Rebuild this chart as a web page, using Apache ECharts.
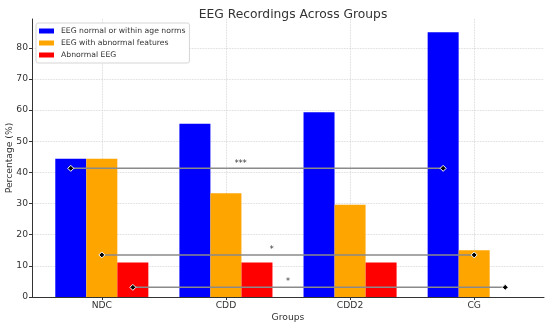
<!DOCTYPE html>
<html>
<head>
<meta charset="utf-8">
<script src="https://cdn.jsdelivr.net/npm/echarts@6/dist/echarts.min.js"></script>
<style>html,body{margin:0;padding:0;background:#fff}#c{width:550px;height:326px}</style>
</head>
<body>
<div id="c"></div>
<script>
const categories = ['NDC', 'CDD', 'CDD2', 'CG'];
const seriesNames = ['EEG normal or within age norms', 'EEG with abnormal features', 'Abnormal EEG'];
const normalVals = [44.4, 55.6, 59.3, 85.0];
const featureVals = [44.4, 33.3, 29.6, 15.0];
const abnormalVals = [11.1, 11.1, 11.1, 0];
const yTicks = [0, 10, 20, 30, 40, 50, 60, 70, 80];
const sigY = [41.3, 13.5, 3.1];
const sigStart = [-0.25, 0, 0.25];
const sigEnd = [2.75, 3, 3.25];
const sigText = ['***', '*', '*'];
const sigTextX = [1.12, 1.37, 1.5];
const sigTextY = [42.6, 15.2, 4.8];

const FONT = 'DejaVu Sans';
const colors = ['#0000ff', '#ffa500', '#ff0000'];
const offsets = [-0.25, 0, 0.25];
const valueSets = [normalVals, featureVals, abnormalVals];

const chart = echarts.init(document.getElementById('c'));
const series = [];
valueSets.forEach((vals, s) => {
  series.push({
    type: 'bar',
    name: seriesNames[s],
    data: vals.map((v, i) => [i + offsets[s], v]),
    barWidth: 31,
    barGap: '-100%',
    itemStyle: { color: colors[s] },
    emphasis: { disabled: true },
    z: 2
  });
});
sigY.forEach((y, k) => {
  series.push({
    type: 'line',
    data: [[sigStart[k], y], [sigEnd[k], y]],
    symbol: 'diamond',
    symbolSize: 6,
    showSymbol: true,
    lineStyle: { color: '#8a8a8a', width: 1.5 },
    itemStyle: { color: '#000', borderColor: '#fff', borderWidth: 1 },
    emphasis: { disabled: true },
    silent: true,
    z: 5
  });
  series.push({
    type: 'scatter',
    data: [[sigTextX[k], sigTextY[k]]],
    symbolSize: 0,
    label: { show: true, position: 'inside', formatter: sigText[k], fontFamily: FONT, fontSize: 8, color: '#000' },
    silent: true,
    z: 6
  });
});

chart.setOption({
  animation: false,
  title: {
    text: 'EEG Recordings Across Groups',
    left: 288, textAlign: 'center', top: 4,
    textStyle: { fontFamily: FONT, fontSize: 12.3, fontWeight: 'normal', color: '#333' }
  },
  legend: {
    data: seriesNames,
    orient: 'vertical',
    left: 36, top: 23,
    icon: 'rect',
    itemWidth: 15, itemHeight: 5,
    itemGap: 2,
    padding: [3, 4, 3, 3],
    borderColor: '#d5d5d5', borderWidth: 1, borderRadius: 2,
    backgroundColor: '#fff',
    textStyle: { fontFamily: FONT, fontSize: 7.7, color: '#333', lineHeight: 10, padding: [0, 0, 0, 2] },
    selectedMode: false
  },
  grid: { left: 32, right: 6, top: 19, bottom: 29, containLabel: false, outerBoundsMode: 'none' },
  xAxis: {
    type: 'value',
    min: -0.5625, max: 3.5625,
    name: 'Groups', nameLocation: 'middle', nameGap: 16.5, nameMoveOverlap: false,
    nameTextStyle: { fontFamily: FONT, fontSize: 9.2, color: '#333' },
    axisLine: { show: true, onZero: false, lineStyle: { color: '#333', width: 1 } },
    axisTick: { show: true, length: 3, customValues: [0, 1, 2, 3], lineStyle: { color: '#333' } },
    axisLabel: { customValues: [0, 1, 2, 3], formatter: v => categories[Math.round(v)], fontFamily: FONT, fontSize: 9.2, color: '#333', margin: 4 },
    splitLine: { show: true, lineStyle: { type: 'dotted', color: '#cfcfcf', width: 0.8 } }
  },
  yAxis: {
    type: 'value',
    min: 0, max: 89.25,
    name: 'Percentage (%)', nameLocation: 'middle', nameGap: 17.5, nameMoveOverlap: false,
    nameTextStyle: { fontFamily: FONT, fontSize: 9.2, color: '#333' },
    axisLine: { show: true, onZero: false, lineStyle: { color: '#333', width: 1 } },
    axisTick: { show: true, length: 3, customValues: yTicks, lineStyle: { color: '#333' } },
    axisLabel: { customValues: yTicks, fontFamily: FONT, fontSize: 9.2, color: '#333', margin: 4 },
    splitLine: { show: true, lineStyle: { type: 'dotted', color: '#cfcfcf', width: 0.8 } }
  },
  series: series
});
</script>
</body>
</html>
